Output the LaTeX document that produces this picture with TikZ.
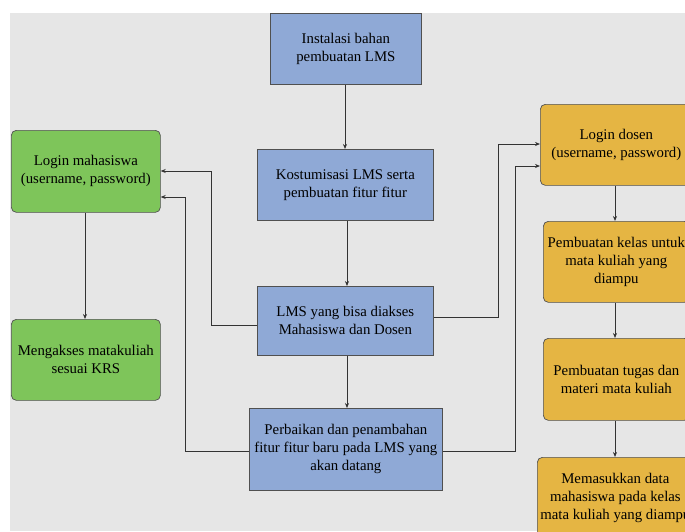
\documentclass[tikz,border=0pt]{standalone}
\usepackage{fontspec}
\setmainfont{Liberation Serif}
\usetikzlibrary{arrows.meta}
\definecolor{bgc}{HTML}{E6E6E6}
\definecolor{bluec}{HTML}{8FA9D6}
\definecolor{greenc}{HTML}{7EC55A}
\definecolor{orangec}{HTML}{E5B543}
\definecolor{edgec}{HTML}{505050}
\tikzset{
  x=1pt,y=-1pt,
  base/.style={draw=edgec,line width=0.7pt,align=center,font=\fontsize{14.8}{18}\selectfont,inner sep=0pt,anchor=north west},
  bluebox/.style={base,fill=bluec},
  greenbox/.style={base,fill=greenc,rounded corners=5pt},
  orangebox/.style={base,fill=orangec,rounded corners=5pt},
  conn/.style={draw=black!80,line width=0.7pt,-{Stealth[length=5pt,width=4pt]}}
}
\begin{document}
\begin{tikzpicture}
\useasboundingbox (0,0) rectangle (685,531);
\clip (0,0) rectangle (685,531);
\fill[white] (0,0) rectangle (685,531);
\fill[bgc] (10,13) rectangle (685,531);
\node[bluebox,minimum width=151pt,minimum height=71pt] (inst) at (270,13) {Instalasi bahan\\pembuatan LMS};
\node[bluebox,minimum width=176pt,minimum height=71pt] (kost) at (257,149) {Kostumisasi LMS serta\\pembuatan fitur fitur};
\node[bluebox,minimum width=176pt,minimum height=69pt] (lms) at (257,286) {LMS yang bisa diakses\\Mahasiswa dan Dosen};
\node[bluebox,minimum width=193pt,minimum height=82pt] (perb) at (249,408) {Perbaikan dan penambahan\\fitur fitur baru pada LMS yang\\akan datang};
\node[greenbox,minimum width=149pt,minimum height=82pt] (logm) at (11,130) {Login mahasiswa\\(username, password)};
\node[greenbox,minimum width=149pt,minimum height=81pt] (meng) at (11,319) {Mengakses matakuliah\\sesuai KRS};
\node[orangebox,minimum width=152pt,minimum height=81pt] (logd) at (540,104) {Login dosen\\(username, password)};
\node[orangebox,minimum width=146pt,minimum height=81pt] (kelas) at (543,221) {Pembuatan kelas untuk\\mata kuliah yang\\diampu};
\node[orangebox,minimum width=146pt,minimum height=82pt] (tugas) at (543,338) {Pembuatan tugas dan\\materi mata kuliah};
\node[orangebox,minimum width=156pt,minimum height=82pt] (mas) at (537,457) {Memasukkan data\\mahasiswa pada kelas\\mata kuliah yang diampu};
\draw[conn] (inst.south -| 345,0) -- (kost.north -| 345,0);
\draw[conn] (kost.south -| 347,0) -- (lms.north -| 347,0);
\draw[conn] (lms.south -| 347,0) -- (perb.north -| 347,0);
\draw[conn] (lms.west |- 0,325) -- (211,325) -- (211,171) -- (logm.east |- 0,171);
\draw[conn] (perb.west |- 0,451) -- (185,451) -- (185,197) -- (logm.east |- 0,197);
\draw[conn] (lms.east |- 0,317) -- (498,317) -- (498,144) -- (logd.west |- 0,144);
\draw[conn] (perb.east |- 0,451) -- (515,451) -- (515,166) -- (logd.west |- 0,166);
\draw[conn] (logm.south -| 85,0) -- (meng.north -| 85,0);
\draw[conn] (logd.south -| 615,0) -- (kelas.north -| 615,0);
\draw[conn] (kelas.south -| 615,0) -- (tugas.north -| 615,0);
\draw[conn] (tugas.south -| 615,0) -- (mas.north -| 615,0);
\end{tikzpicture}
\end{document}
